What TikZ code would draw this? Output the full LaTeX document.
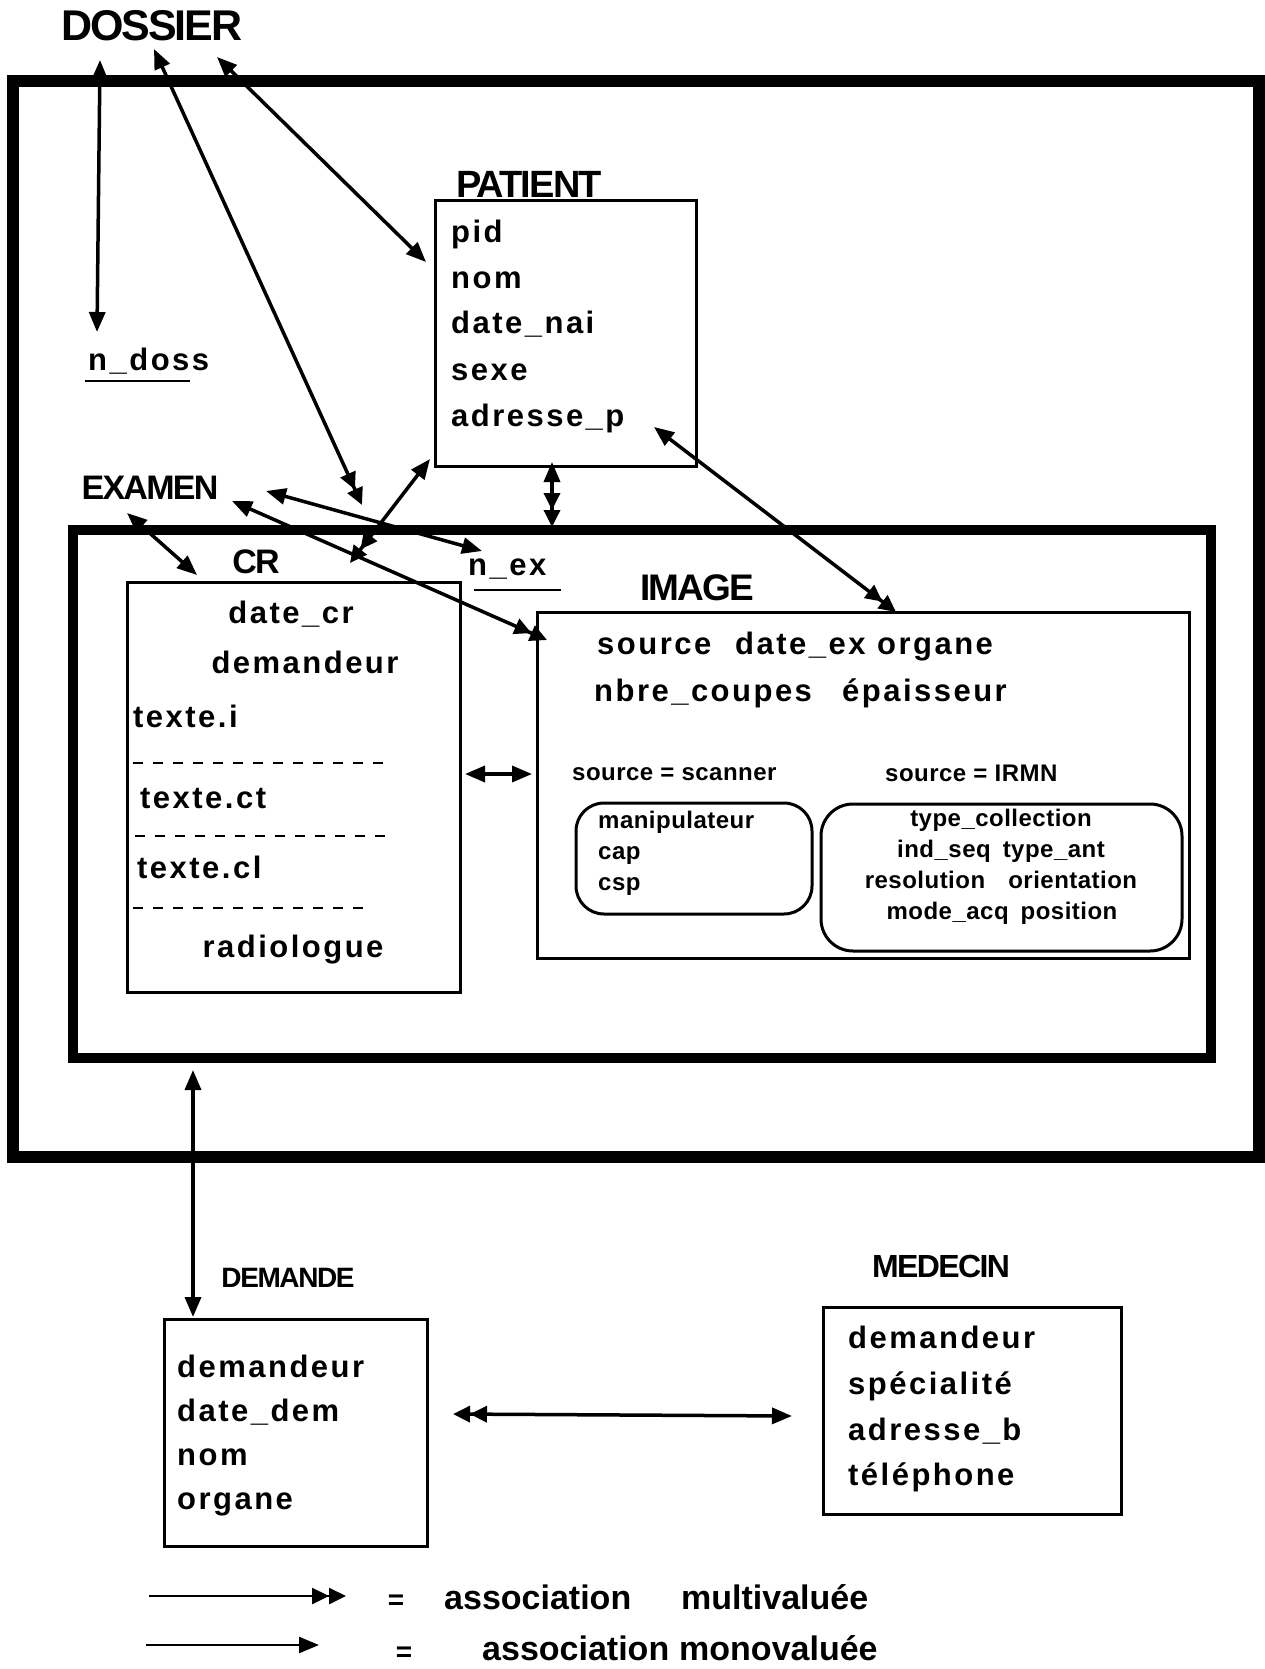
\documentclass[tikz,border=0pt]{standalone}
\usepackage{fontspec}
\setmainfont{Liberation Sans}
\newfontfamily\attrfont[LetterSpace=8]{Liberation Sans Bold}
\newfontfamily\smallfont[LetterSpace=2]{Liberation Sans Bold}
\newfontfamily\titlefont[LetterSpace=-5]{Liberation Sans Bold}
\newfontfamily\legfont{Liberation Sans Bold}
\usetikzlibrary{arrows.meta}
\newcommand\ttlf[1]{\titlefont\fontsize{#1}{#1}\selectfont}
\begin{document}
\begin{tikzpicture}[x=1pt,y=-1pt,
  box/.style={draw, line width=3pt, inner sep=0pt, outer sep=0pt, anchor=north west},
  attr/.style={font={\attrfont\fontsize{31}{37}\selectfont}, inner sep=0pt, anchor=base west},
  attrc/.style={attr, anchor=base},
  small/.style={font={\smallfont\fontsize{24}{28}\selectfont}, inner sep=0pt, anchor=base west},
  smallc/.style={small, anchor=base},
  title/.style={inner sep=0pt, anchor=center},
  leg/.style={font={\legfont\fontsize{34}{40}\selectfont}, inner sep=0pt, anchor=base west},
  conn/.style={line width=3.5pt},
  dashsep/.style={line width=2pt, dash pattern=on 10pt off 10pt},
  uline/.style={line width=2pt},
  tipmono/.tip={Triangle[length=20pt,width=16pt]},
  tipmulti/.tip={Triangle[length=17pt,width=16pt]Triangle[length=17pt,width=16pt]},
]
\useasboundingbox (0,0) rectangle (1265,1669);
\fill[white] (0,0) rectangle (1265,1669);

% ---- boxes
\node[box, line width=12pt, minimum width=1246pt, minimum height=1076pt] (dossierbox) at (13,81) {};
\node[box, line width=10pt, minimum width=1138pt, minimum height=528pt] (examenbox) at (73,530) {};
\node[box, minimum width=261pt, minimum height=265pt] (patientbox) at (435,201) {};
\node[box, minimum width=333pt, minimum height=410pt] (crbox) at (127,582) {};
\node[box, minimum width=652pt, minimum height=346pt] (imagebox) at (537,612) {};
\node[box, rounded corners=28pt, minimum width=236pt, minimum height=111pt] (scanbox) at (576,803) {};
\node[box, rounded corners=32pt, minimum width=361pt, minimum height=147pt] (irmnbox) at (821,804) {};
\node[box, minimum width=263pt, minimum height=227pt] (demandebox) at (164,1319) {};
\node[box, minimum width=298pt, minimum height=207pt] (medecinbox) at (823,1307) {};

% ---- titles
\node[title, font=\ttlf{43}] (tdossier) at (152,26) {DOSSIER};
\node[title, font=\ttlf{38}] (tpatient) at (529,184) {PATIENT};
\node[title, font=\ttlf{34}] (texamen) at (150,488) {EXAMEN};
\node[title, font=\ttlf{34}] (tcr) at (256,562) {CR};
\node[title, font=\ttlf{37}] (timage) at (697,588) {IMAGE};
\node[title, font=\ttlf{28}] (tdemande) at (288,1278) {DEMANDE};
\node[title, font=\ttlf{32}] (tmedecin) at (941,1266) {MEDECIN};

% ---- PATIENT attributes
\node[attr] (ppid) at (451,243) {pid};
\node[attr] (pnom) at (451,289) {nom};
\node[attr] (pdate) at (451,334) {date\_nai};
\node[attr] (psexe) at (451,380) {sexe};
\node[attr] (padr) at (451,426) {adresse\_p};

% ---- keys
\node[attr] (ndoss) at (88,370) {n\_doss};
\draw[uline] (85,381) coordinate (ndossul1) -- (190,381) coordinate (ndossul2);
\node[attr] (nex) at (468,575) {n\_ex};
\draw[uline] (474,590) coordinate (nexul1) -- (561,590) coordinate (nexul2);

% ---- CR attributes
\node[attrc] (crdate) at (291,623) {date\_cr};
\node[attrc] (crdem) at (305,673) {demandeur};
\node[attr] (crti) at (133,727) {texte.i};
\draw[dashsep] (133,763) coordinate (cd1a) -- (393,763) coordinate (cd1b);
\node[attr] (crtct) at (140,808) {texte.ct};
\draw[dashsep] (135,836) coordinate (cd2a) -- (395,836) coordinate (cd2b);
\node[attr] (crtcl) at (137,878) {texte.cl};
\draw[dashsep] (133,908) coordinate (cd3a) -- (373,908) coordinate (cd3b);
\node[attrc] (crrad) at (293,957) {radiologue};

% ---- IMAGE attributes
\node[attr] (isrc) at (597,654) {source};
\node[attr] (idate) at (735,654) {date\_ex};
\node[attr] (iorg) at (877,654) {organe};
\node[attr] (inbre) at (594,701) {nbre\_coupes};
\node[attr] (iepa) at (842,701) {épaisseur};
\node[small] (iscan) at (572,780) {source = scanner};
\node[small] (iirmn) at (885,781) {source = IRMN};
\node[small] (smanip) at (598,828) {manipulateur};
\node[small] (scap) at (598,859) {cap};
\node[small] (scsp) at (598,890) {csp};
\node[smallc] (rtype) at (1001,826) {type\_collection};
\node[smallc] (rind) at (1001,857) {ind\_seq\enspace type\_ant};
\node[smallc] (rres) at (1001,888) {resolution\enspace\, orientation};
\node[smallc] (rmode) at (1002,919) {mode\_acq\enspace position};

% ---- DEMANDE / MEDECIN attributes
\node[attr] (ddem) at (177,1377) {demandeur};
\node[attr] (ddate) at (177,1421) {date\_dem};
\node[attr] (dnom) at (177,1465) {nom};
\node[attr] (dorg) at (177,1509) {organe};
\node[attr] (mdem) at (848,1348) {demandeur};
\node[attr] (mspe) at (848,1394) {spécialité};
\node[attr] (madr) at (848,1440) {adresse\_b};
\node[attr] (mtel) at (848,1485) {téléphone};

% ---- connector end points
\coordinate (c1a) at (100,60);  \coordinate (c1b) at (97,332);
\coordinate (c2a) at (154,49);  \coordinate (c2b) at (362,505);
\coordinate (c3a) at (217,57);  \coordinate (c3b) at (426,262);
\coordinate (c4a) at (430,459); \coordinate (c4b) at (350,563);
\coordinate (c5a) at (552,462); \coordinate (c5b) at (552,527);
\coordinate (c6a) at (654,427); \coordinate (c6b) at (896,612);
\coordinate (c7a) at (127,513); \coordinate (c7b) at (197,575);
\coordinate (c8a) at (266,491); \coordinate (c8b) at (482,551);
\coordinate (c9a) at (232,501); \coordinate (c9b) at (547,640);
\coordinate (c10a) at (465,774); \coordinate (c10b) at (532,774);
\coordinate (c11a) at (193,1070); \coordinate (c11b) at (193,1317);
\coordinate (c12a) at (453,1414); \coordinate (c12b) at (792,1416);

\draw[conn, {tipmono}-{tipmono}] (c1a) -- (c1b);
\draw[conn, {tipmono}-{tipmulti}] (c2a) -- (c2b);
\draw[conn, {tipmono}-{tipmono}] (c3a) -- (c3b);
\draw[conn, {tipmono}-{tipmulti}] (c4a) -- (c4b);
\draw[conn, {tipmono}-{tipmulti}] (c5a) -- (c5b);
\draw[conn, {tipmono}-{tipmulti}] (c6a) -- (c6b);
\draw[conn, {tipmono}-{tipmono}] (c7a) -- (c7b);
\draw[conn, {tipmono}-{tipmono}] (c8a) -- (c8b);
\draw[conn, {tipmono}-{tipmulti}] (c9a) -- (c9b);
\draw[conn, {tipmono}-{tipmono}] (c10a) -- (c10b);
\draw[conn, {tipmono}-{tipmono}] (c11a) -- (c11b);
\draw[conn, {tipmulti}-{tipmono}] (c12a) -- (c12b);

% ---- legend
\coordinate (l1a) at (149,1596); \coordinate (l1b) at (346,1596);
\coordinate (l2a) at (146,1645); \coordinate (l2b) at (319,1645);
\draw[line width=2.5pt, -{tipmulti}] (l1a) -- (l1b);
\draw[line width=2.5pt, -{tipmono}] (l2a) -- (l2b);
\node[leg, anchor=center, font={\legfont\fontsize{28}{30}\selectfont}] (leq1) at (396,1602) {=};
\node[leg] (lass1) at (444,1609) {association};
\node[leg] (lmulti) at (681,1609) {multivaluée};
\node[leg, anchor=center, font={\legfont\fontsize{28}{30}\selectfont}] (leq2) at (404,1654) {=};
\node[leg] (lass2) at (482,1660) {association};
\node[leg] (lmono) at (679,1660) {monovaluée};
\end{tikzpicture}
\end{document}
